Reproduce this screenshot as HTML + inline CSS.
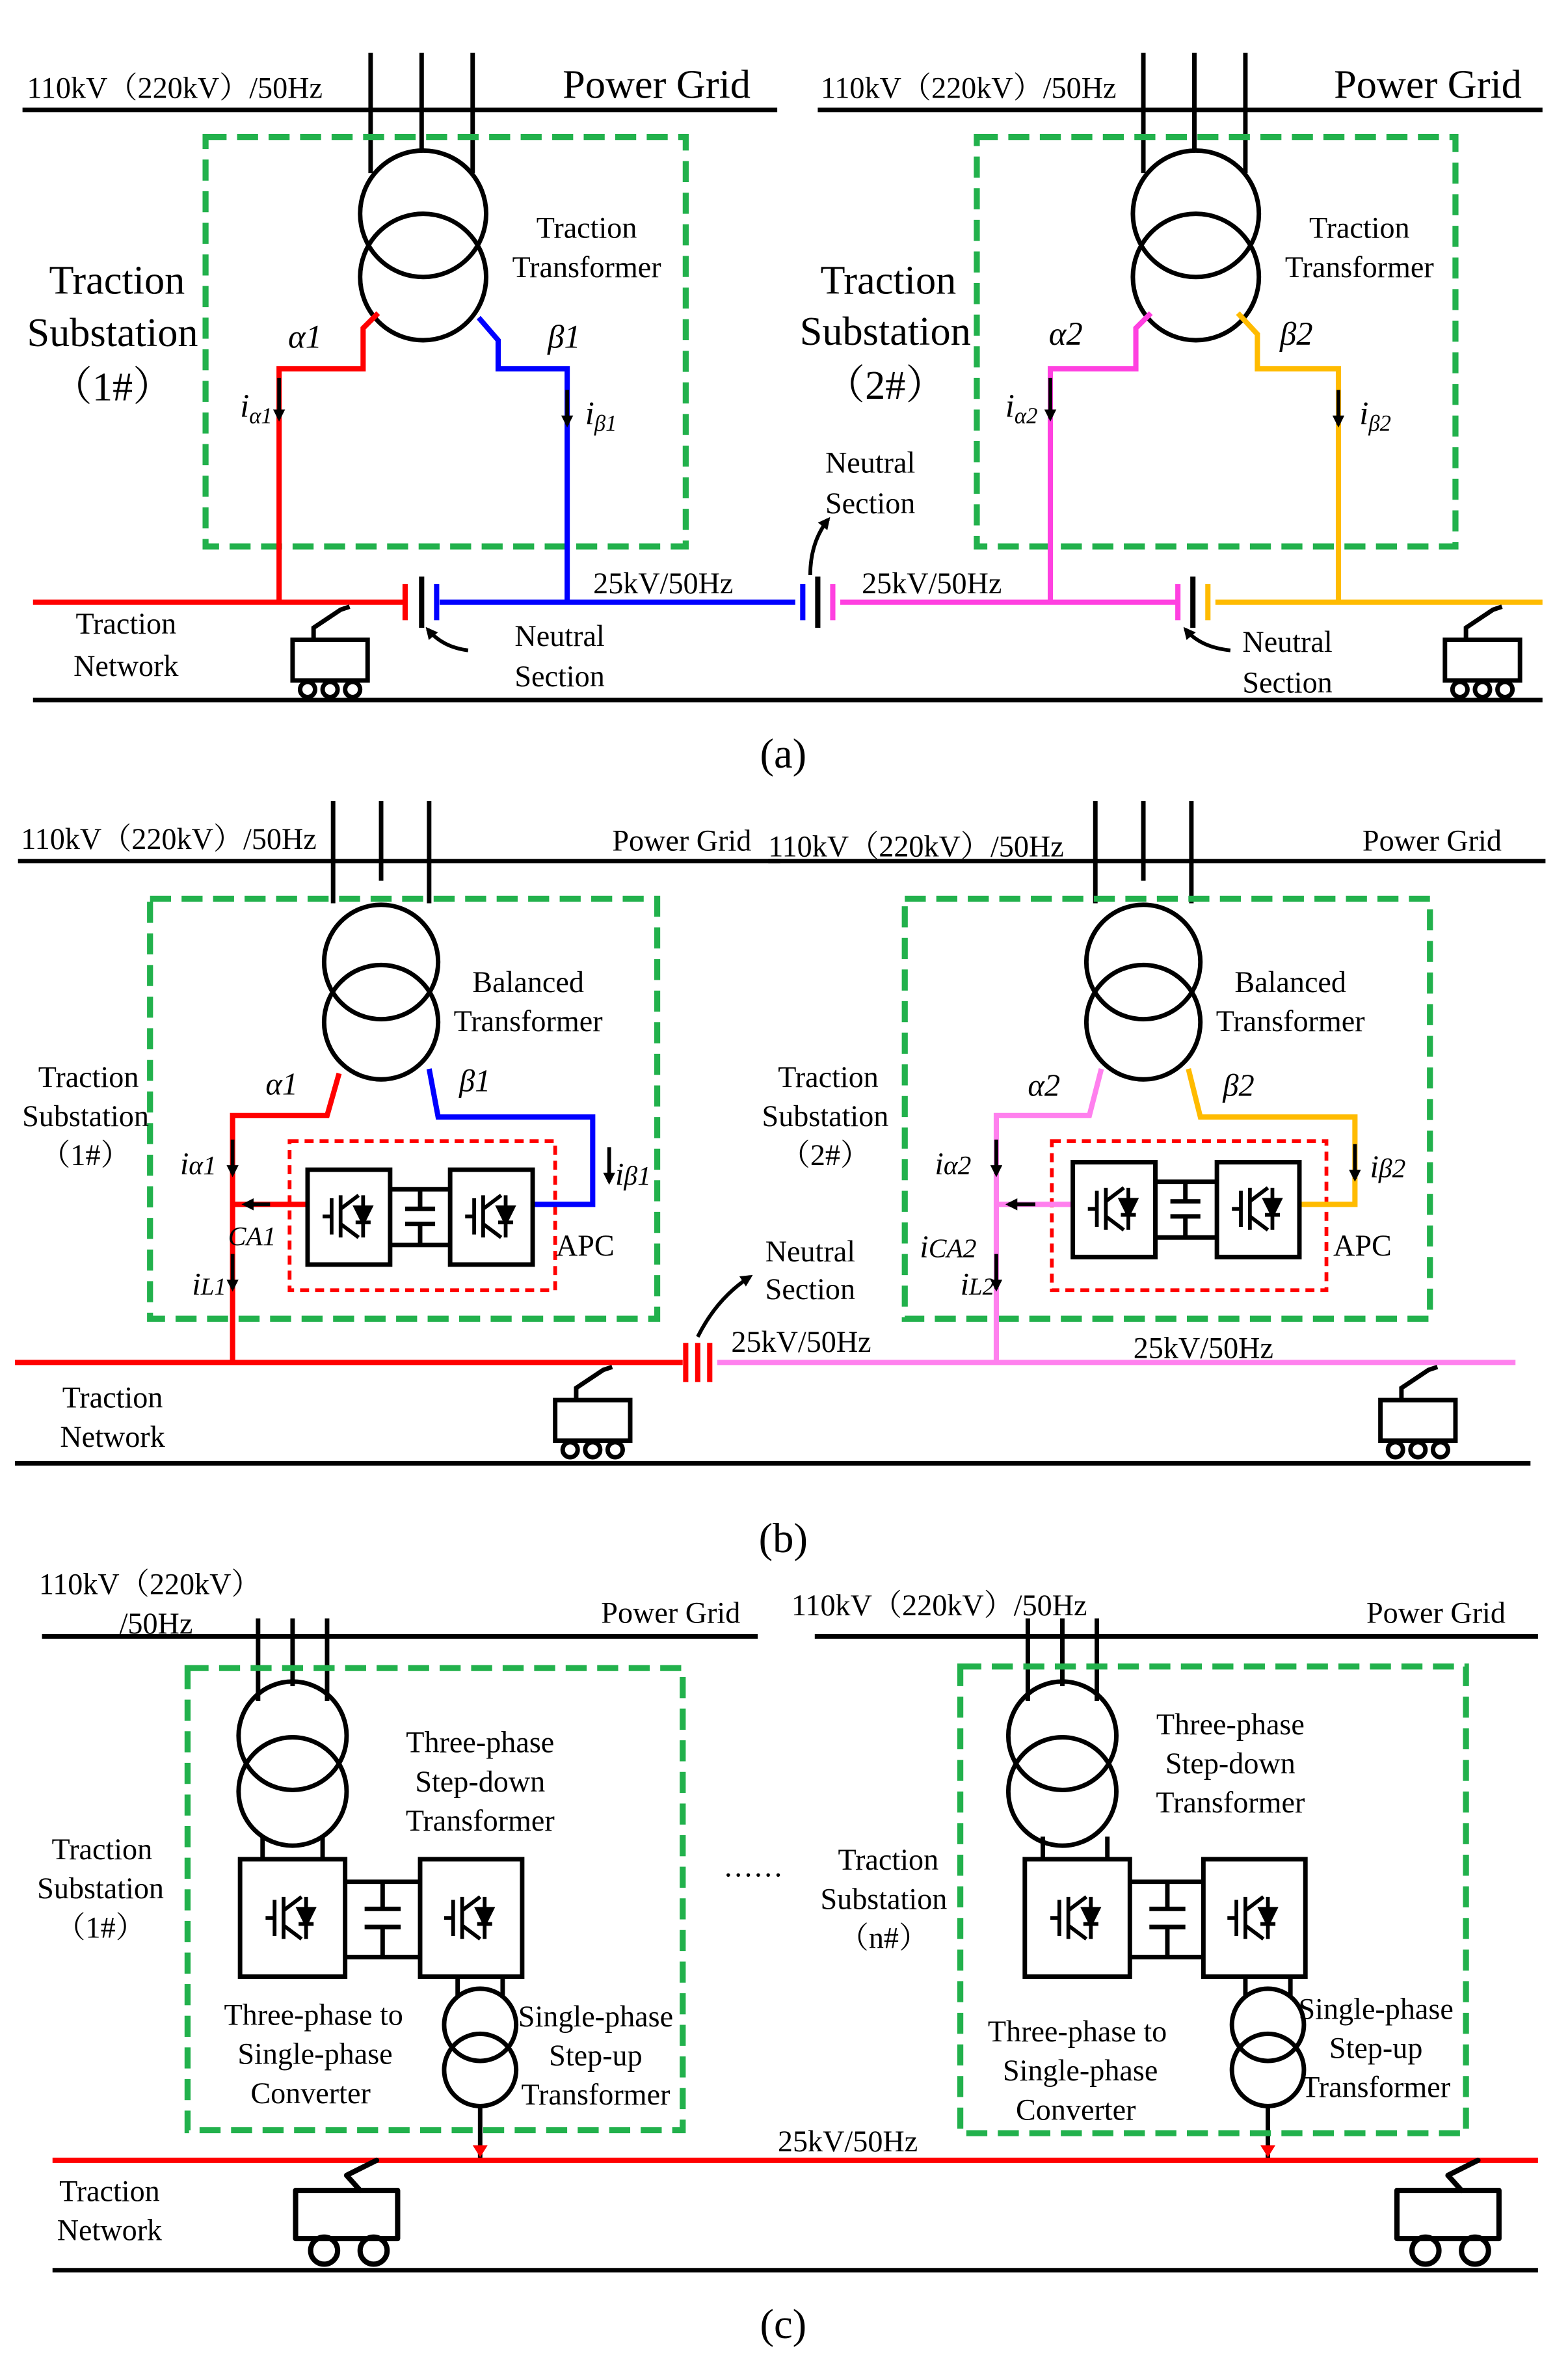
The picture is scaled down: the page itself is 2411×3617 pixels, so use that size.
<!DOCTYPE html>
<html><head><meta charset="utf-8"><style>
html,body{margin:0;padding:0;background:#fff}
svg{display:block}
text{font-family:"Liberation Serif","Noto Serif CJK SC",serif;fill:#000}
</style></head><body>
<svg width="2411" height="3617" viewBox="0 0 1045 1563" preserveAspectRatio="none" xmlns="http://www.w3.org/2000/svg">
<defs>
<g id="igbt" fill="none" stroke="#000" stroke-width="2.5">
  <line x1="-12" y1="-12" x2="-12" y2="12"/>
  <line x1="-18" y1="0" x2="-12" y2="0"/>
  <line x1="-6" y1="-14" x2="-6" y2="14"/>
  <line x1="-6" y1="-5" x2="6" y2="-14"/>
  <line x1="-6" y1="5" x2="6" y2="14"/>
  <polygon points="4,-6 14,-6 9,4" fill="#000"/>
  <line x1="4" y1="4" x2="14" y2="4"/>
  <line x1="9" y1="-14" x2="9" y2="14"/>
</g>
<g id="train" fill="none" stroke="#000" stroke-width="3">
  <rect x="0" y="0" width="50" height="27" fill="#fff"/>
  <circle cx="10" cy="33" r="5"/><circle cx="25" cy="33" r="5"/><circle cx="40" cy="33" r="5"/>
  <polyline points="14,0 14,-8 32,-20 38,-22"/>
</g>
<g id="train2" fill="none" stroke="#000" stroke-width="3.5" stroke-linejoin="round" stroke-linecap="round">
  <rect x="0" y="0" width="68" height="32" fill="#fff"/>
  <circle cx="19" cy="40" r="9"/><circle cx="52" cy="40" r="9"/>
  <polyline points="43,0 34,-10 54,-20"/>
</g>
<marker id="ah" markerWidth="8" markerHeight="8" refX="6" refY="4" orient="auto" markerUnits="userSpaceOnUse"><path d="M0,0 L8,4 L0,8 z" fill="#000"/></marker>
</defs>

<!-- ============ (a) ============ -->
<g stroke="#000" stroke-width="3" fill="none">
<line x1="15" y1="73" x2="518" y2="73"/>
<line x1="545" y1="73" x2="1028" y2="73"/>
<line x1="247" y1="35" x2="247" y2="115"/><line x1="281" y1="35" x2="281" y2="100"/><line x1="315" y1="35" x2="315" y2="115"/>
<circle cx="282" cy="142" r="42"/><circle cx="282" cy="184" r="42"/>
<line x1="762" y1="35" x2="762" y2="115"/><line x1="796" y1="35" x2="796" y2="100"/><line x1="830" y1="35" x2="830" y2="115"/>
<circle cx="797" cy="142" r="42"/><circle cx="797" cy="184" r="42"/>
<line x1="22" y1="465" x2="1028" y2="465"/>
</g>
<g fill="none" stroke="#22b14c" stroke-width="4" stroke-dasharray="14,7">
<rect x="137" y="91" width="320" height="272"/>
<rect x="651" y="91" width="319" height="272"/>
</g>
<g fill="none" stroke-width="3.5">
<polyline stroke="#f00" points="252,208 242,218 242,245 186,245 186,400"/>
<polyline stroke="#00f" points="319,211 332,226 332,245 378,245 378,400"/>
<line stroke="#f00" x1="22" y1="400" x2="270" y2="400"/>
<line stroke="#00f" x1="293" y1="400" x2="530" y2="400"/>
<polyline stroke="#ff40e0" points="767,208 757,218 757,245 700,245 700,400"/>
<polyline stroke="#ffbb00" points="825,208 838,222 838,245 892,245 892,400"/>
<line stroke="#ff40e0" x1="560" y1="400" x2="785" y2="400"/>
<line stroke="#ffbb00" x1="810" y1="400" x2="1028" y2="400"/>
</g>
<g stroke-width="3.5">
<line stroke="#f00" x1="270" y1="388" x2="270" y2="412"/><line stroke="#000" x1="281" y1="383" x2="281" y2="417"/><line stroke="#00f" x1="291" y1="388" x2="291" y2="412"/>
<line stroke="#00f" x1="535" y1="388" x2="535" y2="412"/><line stroke="#000" x1="545" y1="383" x2="545" y2="417"/><line stroke="#ff40e0" x1="555" y1="388" x2="555" y2="412"/>
<line stroke="#ff40e0" x1="785" y1="388" x2="785" y2="412"/><line stroke="#000" x1="795" y1="383" x2="795" y2="417"/><line stroke="#ffbb00" x1="805" y1="388" x2="805" y2="412"/>
</g>
<g stroke="#000" stroke-width="2.5" fill="none" marker-end="url(#ah)">
<line x1="186" y1="251" x2="186" y2="278"/><line x1="378" y1="259" x2="378" y2="282"/>
<line x1="700" y1="251" x2="700" y2="278"/><line x1="892" y1="259" x2="892" y2="282"/>
<path d="M312,432 Q295,430 285,418"/>
<path d="M820,432 Q800,430 790,418"/>
<path d="M540,382 Q540,360 552,345"/>
</g>
<use href="#train" x="195" y="425"/><use href="#train" x="963" y="425"/>
<g font-size="20">
<text x="18" y="65">110kV（220kV）/50Hz</text><text x="547" y="65">110kV（220kV）/50Hz</text>
</g>
<g font-size="27"><text x="375" y="65">Power Grid</text><text x="889" y="65">Power Grid</text></g>
<g font-size="27" text-anchor="middle">
<text x="78" y="195">Traction</text><text x="75" y="230">Substation</text><text x="75" y="266">（1#）</text>
<text x="592" y="195">Traction</text><text x="590" y="229">Substation</text><text x="590" y="265">（2#）</text>
</g>
<g font-size="20" text-anchor="middle">
<text x="391" y="158">Traction</text><text x="391" y="184">Transformer</text>
<text x="906" y="158">Traction</text><text x="906" y="184">Transformer</text>
<text x="84" y="421">Traction</text><text x="84" y="449">Network</text>
<text x="373" y="429">Neutral</text><text x="373" y="456">Section</text>
<text x="858" y="433">Neutral</text><text x="858" y="460">Section</text>
<text x="580" y="314">Neutral</text><text x="580" y="341">Section</text>
<text x="442" y="394">25kV/50Hz</text><text x="621" y="394">25kV/50Hz</text>
</g>
<g font-size="22" font-style="italic">
<text x="192" y="231">α1</text><text x="365" y="231">β1</text>
<text x="699" y="229">α2</text><text x="853" y="229">β2</text>
<text x="160" y="277">i<tspan font-size="15" dy="4">α1</tspan></text>
<text x="390" y="282">i<tspan font-size="15" dy="4">β1</tspan></text>
<text x="670" y="277">i<tspan font-size="15" dy="4">α2</tspan></text>
<text x="906" y="282">i<tspan font-size="15" dy="4">β2</tspan></text>
</g>
<text x="522" y="510" font-size="28" text-anchor="middle">(a)</text>

<!-- ============ (b) ============ -->
<g stroke="#000" stroke-width="3" fill="none">
<line x1="12" y1="572" x2="520" y2="572"/><line x1="512" y1="572" x2="1030" y2="572"/>
<line x1="222" y1="532" x2="222" y2="600"/><line x1="254" y1="532" x2="254" y2="585"/><line x1="286" y1="532" x2="286" y2="600"/>
<circle cx="254" cy="639" r="38"/><circle cx="254" cy="679" r="38"/>
<line x1="730" y1="532" x2="730" y2="600"/><line x1="762" y1="532" x2="762" y2="585"/><line x1="794" y1="532" x2="794" y2="600"/>
<circle cx="762" cy="639" r="38"/><circle cx="762" cy="679" r="38"/>
<line x1="10" y1="972" x2="1020" y2="972"/>
</g>
<g fill="none" stroke="#22b14c" stroke-width="4" stroke-dasharray="14,7">
<rect x="100" y="597" width="338" height="279"/><rect x="603" y="597" width="350" height="279"/>
</g>
<g fill="none" stroke="#f00" stroke-width="2.5" stroke-dasharray="6,4">
<rect x="193" y="758" width="177" height="99"/><rect x="701" y="758" width="183" height="99"/>
</g>
<g fill="none" stroke-width="3.5">
<polyline stroke="#f00" points="226,713 218,741 155,741 155,905"/>
<line stroke="#f00" x1="155" y1="800" x2="205" y2="800"/>
<polyline stroke="#00f" points="286,710 292,742 395,742 395,800 355,800"/>
<line stroke="#f00" x1="10" y1="905" x2="455" y2="905"/>
<line stroke="#ff80ee" x1="478" y1="905" x2="1010" y2="905"/>
<polyline stroke="#ff80ee" points="734,710 726,741 664,741 664,905"/>
<line stroke="#ff80ee" x1="664" y1="800" x2="715" y2="800"/>
<polyline stroke="#ffbb00" points="792,710 800,742 903,742 903,800 866,800"/>
</g>
<g stroke="#f00" stroke-width="3.5"><line x1="457" y1="892" x2="457" y2="918"/><line x1="465" y1="892" x2="465" y2="918"/><line x1="473" y1="892" x2="473" y2="918"/></g>
<g stroke="#000" stroke-width="3" fill="none">
<rect x="205" y="777" width="55" height="63"/><rect x="300" y="777" width="55" height="63"/>
<line x1="260" y1="790" x2="300" y2="790"/><line x1="260" y1="827" x2="300" y2="827"/>
<line x1="280" y1="790" x2="280" y2="803"/><line x1="270" y1="803" x2="290" y2="803"/><line x1="270" y1="813" x2="290" y2="813"/><line x1="280" y1="813" x2="280" y2="827"/>
<rect x="715" y="772" width="55" height="63"/><rect x="811" y="772" width="55" height="63"/>
<line x1="770" y1="785" x2="811" y2="785"/><line x1="770" y1="822" x2="811" y2="822"/>
<line x1="790" y1="785" x2="790" y2="798"/><line x1="780" y1="798" x2="800" y2="798"/><line x1="780" y1="808" x2="800" y2="808"/><line x1="790" y1="808" x2="790" y2="822"/>
</g>
<use href="#igbt" x="233" y="808"/><use href="#igbt" x="328" y="808"/>
<use href="#igbt" x="743" y="803"/><use href="#igbt" x="839" y="803"/>
<g stroke="#000" stroke-width="2.5" fill="none" marker-end="url(#ah)">
<line x1="155" y1="757" x2="155" y2="780"/><line x1="155" y1="833" x2="155" y2="856"/>
<line x1="180" y1="800" x2="163" y2="800"/>
<line x1="406" y1="762" x2="406" y2="785"/>
<line x1="664" y1="757" x2="664" y2="780"/><line x1="664" y1="833" x2="664" y2="856"/>
<line x1="690" y1="800" x2="672" y2="800"/>
<line x1="903" y1="760" x2="903" y2="783"/>
<path d="M465,888 Q478,862 500,848"/>
</g>
<use href="#train" x="370" y="930"/><use href="#train" x="920" y="930"/>
<g font-size="20">
<text x="14" y="564">110kV（220kV）/50Hz</text><text x="512" y="569">110kV（220kV）/50Hz</text>
<text x="408" y="565">Power Grid</text><text x="908" y="565">Power Grid</text>
</g>
<g font-size="20" text-anchor="middle">
<text x="59" y="722">Traction</text><text x="57" y="748">Substation</text><text x="57" y="774">（1#）</text>
<text x="552" y="722">Traction</text><text x="550" y="748">Substation</text><text x="550" y="774">（2#）</text>
<text x="352" y="659">Balanced</text><text x="352" y="685">Transformer</text>
<text x="860" y="659">Balanced</text><text x="860" y="685">Transformer</text>
<text x="75" y="935">Traction</text><text x="75" y="961">Network</text>
<text x="540" y="838">Neutral</text><text x="540" y="863">Section</text>
<text x="534" y="898">25kV/50Hz</text><text x="802" y="902">25kV/50Hz</text>
<text x="390" y="834">APC</text><text x="908" y="834">APC</text>
</g>
<g font-size="21" font-style="italic">
<text x="177" y="727">α1</text><text x="306" y="725">β1</text>
<text x="685" y="728">α2</text><text x="815" y="728">β2</text>
<text x="120" y="780">i<tspan font-size="18" dy="0">α1</tspan></text>
<text x="410" y="787">i<tspan font-size="18">β1</tspan></text>
<text x="623" y="780">i<tspan font-size="18">α2</tspan></text>
<text x="913" y="782">i<tspan font-size="18">β2</tspan></text>
<text x="152" y="827" font-size="18">CA1</text>
<text x="128" y="860">i<tspan font-size="16">L1</tspan></text>
<text x="613" y="835">i<tspan font-size="18">CA2</tspan></text>
<text x="640" y="860">i<tspan font-size="16">L2</tspan></text>
</g>
<text x="522" y="1031" font-size="28" text-anchor="middle">(b)</text>

<!-- ============ (c) ============ -->
<g stroke="#000" stroke-width="3" fill="none">
<line x1="28" y1="1087" x2="505" y2="1087"/><line x1="543" y1="1087" x2="1025" y2="1087"/>
<line x1="172" y1="1075" x2="172" y2="1130"/><line x1="195" y1="1075" x2="195" y2="1120"/><line x1="218" y1="1075" x2="218" y2="1130"/>
<circle cx="195" cy="1153" r="36"/><circle cx="195" cy="1190" r="36"/>
<line x1="175" y1="1220" x2="175" y2="1235"/><line x1="215" y1="1220" x2="215" y2="1235"/>
<rect x="160" y="1235" width="70" height="78"/><rect x="280" y="1235" width="68" height="78"/>
<line x1="230" y1="1250" x2="280" y2="1250"/><line x1="230" y1="1300" x2="280" y2="1300"/>
<line x1="255" y1="1250" x2="255" y2="1268"/><line x1="243" y1="1268" x2="267" y2="1268"/><line x1="243" y1="1280" x2="267" y2="1280"/><line x1="255" y1="1280" x2="255" y2="1300"/>
<line x1="305" y1="1313" x2="305" y2="1327"/><line x1="335" y1="1313" x2="335" y2="1327"/>
<circle cx="320" cy="1345" r="24"/><circle cx="320" cy="1375" r="24"/>
<line x1="320" y1="1399" x2="320" y2="1435"/>
<line x1="685" y1="1075" x2="685" y2="1130"/><line x1="708" y1="1075" x2="708" y2="1120"/><line x1="731" y1="1075" x2="731" y2="1130"/>
<circle cx="708" cy="1153" r="36"/><circle cx="708" cy="1190" r="36"/>
<line x1="695" y1="1220" x2="695" y2="1235"/><line x1="738" y1="1220" x2="738" y2="1235"/>
<rect x="683" y="1235" width="70" height="78"/><rect x="802" y="1235" width="68" height="78"/>
<line x1="753" y1="1250" x2="802" y2="1250"/><line x1="753" y1="1300" x2="802" y2="1300"/>
<line x1="778" y1="1250" x2="778" y2="1268"/><line x1="766" y1="1268" x2="790" y2="1268"/><line x1="766" y1="1280" x2="790" y2="1280"/><line x1="778" y1="1280" x2="778" y2="1300"/>
<line x1="830" y1="1313" x2="830" y2="1327"/><line x1="860" y1="1313" x2="860" y2="1327"/>
<circle cx="845" cy="1345" r="24"/><circle cx="845" cy="1375" r="24"/>
<line x1="845" y1="1399" x2="845" y2="1435"/>
<line x1="35" y1="1508" x2="1025" y2="1508"/>
</g>
<use href="#igbt" x="195" y="1274"/><use href="#igbt" x="314" y="1274"/>
<use href="#igbt" x="718" y="1274"/><use href="#igbt" x="836" y="1274"/>
<g fill="none" stroke="#22b14c" stroke-width="4" stroke-dasharray="14,7">
<rect x="125" y="1108" width="330" height="307"/><rect x="640" y="1107" width="337" height="310"/>
</g>
<line x1="35" y1="1435" x2="1025" y2="1435" stroke="#f00" stroke-width="3.5"/>
<g fill="#f00"><path d="M315,1425 L325,1425 L320,1433 z"/><path d="M840,1425 L850,1425 L845,1433 z"/></g>
<use href="#train2" x="197" y="1455"/><use href="#train2" x="931" y="1455"/>
<g font-size="20" text-anchor="middle">
<text x="100" y="1059">110kV（220kV）</text><text x="104" y="1085">/50Hz</text>
<text x="447" y="1078">Power Grid</text><text x="957" y="1078">Power Grid</text>
<text x="626" y="1073">110kV（220kV）/50Hz</text>
<text x="320" y="1164">Three-phase</text><text x="320" y="1190">Step-down</text><text x="320" y="1216">Transformer</text>
<text x="820" y="1152">Three-phase</text><text x="820" y="1178">Step-down</text><text x="820" y="1204">Transformer</text>
<text x="68" y="1235">Traction</text><text x="67" y="1261">Substation</text><text x="67" y="1287">（1#）</text>
<text x="592" y="1242">Traction</text><text x="589" y="1268">Substation</text><text x="589" y="1294">（n#）</text>
<text x="209" y="1345">Three-phase to</text><text x="210" y="1371">Single-phase</text><text x="207" y="1397">Converter</text>
<text x="718" y="1356">Three-phase to</text><text x="720" y="1382">Single-phase</text><text x="717" y="1408">Converter</text>
<text x="397" y="1346">Single-phase</text><text x="397" y="1372">Step-up</text><text x="397" y="1398">Transformer</text>
<text x="917" y="1341">Single-phase</text><text x="917" y="1367">Step-up</text><text x="917" y="1393">Transformer</text>
<text x="565" y="1429">25kV/50Hz</text>
<text x="73" y="1462">Traction</text><text x="73" y="1488">Network</text>
<text x="502" y="1252">······</text>
</g>
<text x="522" y="1553" font-size="28" text-anchor="middle">(c)</text>
</svg>
</body></html>
